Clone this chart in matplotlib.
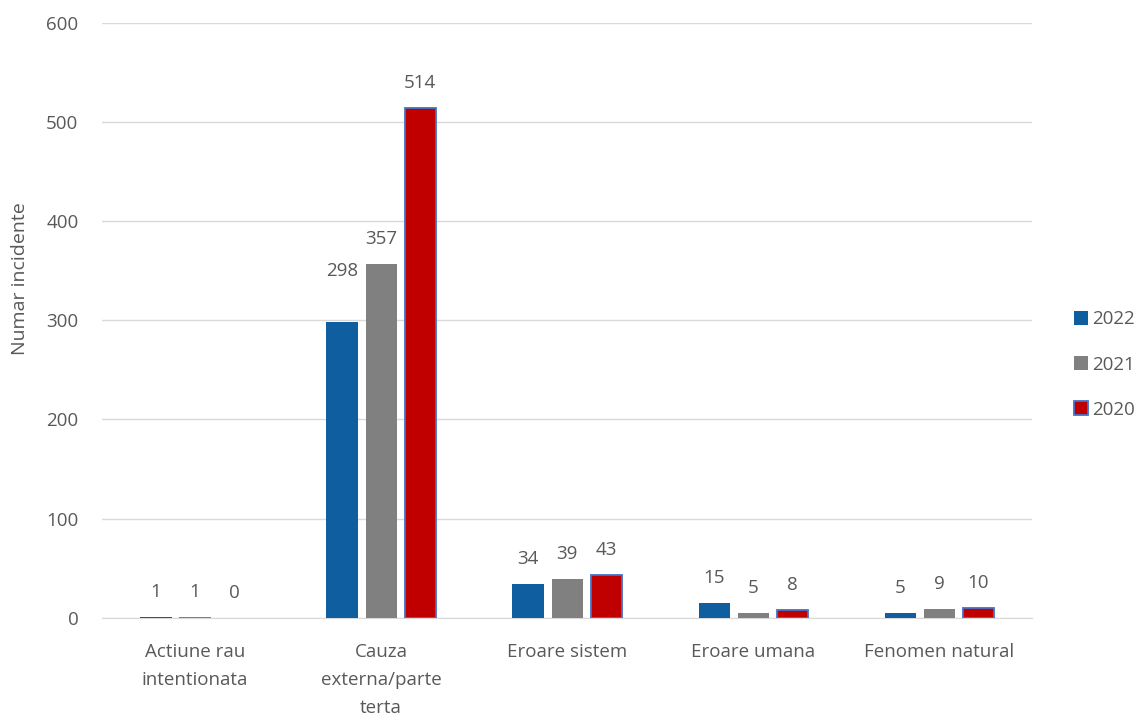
import matplotlib.pyplot as plt
import numpy as np

categories = ["Actiune rau\nintentionata", "Cauza\nexterna/parte\nterta", "Eroare sistem",
              "Eroare umana", "Fenomen natural"]
years = ["2022", "2021", "2020"]
v2022 = [1, 298, 34, 15, 5]
v2021 = [1, 357, 39, 5, 9]
v2020 = [0, 514, 43, 8, 10]

series = [v2022, v2021, v2020]
colors = ["#0F5FA0", "#808080", "#C00000"]
edges = ["#0F5FA0", "#808080", "#4472C4"]
text_color = "#595959"

plt.rcParams['font.family'] = ['Open Sans', 'DejaVu Sans']
fs = 13.5

fig = plt.figure(figsize=(11.47, 7.15), dpi=100)
ax = fig.add_axes([0.089, 0.136, 0.811, 0.832])

x = np.arange(len(categories))
width = 0.168
step = 0.21
# label offsets in points above the bar top (the 2022 label of the second group sits higher)
base_off = 18
extra_off = {(0, 1): 19}
handles = []
for i, (vals, c, e, lab) in enumerate(zip(series, colors, edges, years)):
    pos = x + (i - 1) * step
    lw = [(1.3 if i == 2 else 0) if v > 0 else 0 for v in vals]
    bars = ax.bar(pos, vals, width, color=c, edgecolor=e, linewidth=lw,
                  label=lab, zorder=3)
    handles.append(bars)
    for j, (p, v) in enumerate(zip(pos, vals)):
        off = base_off + extra_off.get((i, j), 0)
        ax.annotate(str(v), (p, v), xytext=(0, off), textcoords="offset points",
                    ha="center", va="center", fontsize=fs, color=text_color)

ax.set_ylim(0, 600)
ax.set_xlim(-0.5, len(categories) - 0.5)
ax.set_yticks(range(0, 601, 100))
ax.yaxis.grid(True, color="#D9D9D9", linewidth=1)
ax.set_axisbelow(True)
for s in ["top", "right", "left"]:
    ax.spines[s].set_visible(False)
ax.spines["bottom"].set_color("#D9D9D9")
ax.tick_params(axis="y", length=0, labelsize=fs, colors=text_color, pad=17)
ax.tick_params(axis="x", length=0, labelsize=fs, colors=text_color, pad=18)
ax.set_xticks(x)
ax.set_xticklabels(categories, linespacing=1.72)
ax.set_ylabel("Numar incidente", fontsize=14, color=text_color)
ax.yaxis.set_label_coords(-0.079, 0.57)

legend_handles = [plt.Rectangle((0, 0), 1, 1, facecolor=c, edgecolor=e, linewidth=1.3 if k == 2 else 0)
                  for k, (c, e) in enumerate(zip(colors, edges))]
leg = fig.legend(handles=legend_handles, labels=years, loc="center left",
                 bbox_to_anchor=(0.936, 0.49), frameon=False,
                 fontsize=fs, handlelength=0.75, handleheight=0.75, handletextpad=0.25,
                 labelspacing=1.45, borderpad=0, borderaxespad=0)
for t in leg.get_texts():
    t.set_color(text_color)

fig.savefig("out.png", dpi=100)
